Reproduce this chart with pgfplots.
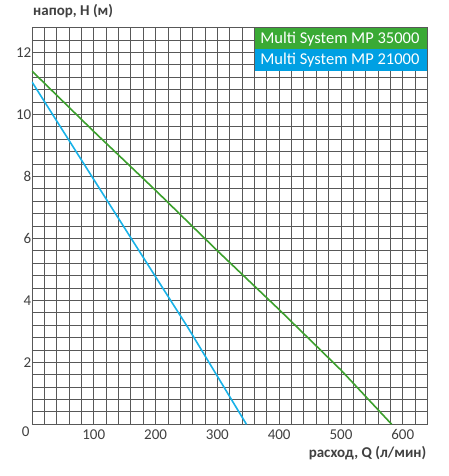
\documentclass[border=0pt]{standalone}
\usepackage{fontspec}
\setmainfont{Carlito}
\usepackage{pgfplots}
\pgfplotsset{compat=1.18}
\definecolor{gridc}{RGB}{88,88,88}
\definecolor{txt}{RGB}{64,64,64}
\definecolor{mpgreen}{RGB}{58,170,53}
\definecolor{mpblue}{RGB}{0,160,227}
\definecolor{lgreen}{RGB}{60,160,45}
\definecolor{lblue}{RGB}{25,178,232}
\begin{document}
\begin{tikzpicture}
\useasboundingbox (-32pt,-51.7pt) rectangle (416pt,424.3pt);
\begin{axis}[
  name=ax,
  scale only axis, width=395.5pt, height=396.6pt,
  xmin=0, xmax=640, ymin=0, ymax=12.8,
  xtick={100,200,...,600},
  minor xtick={0,20,...,640},
  ytick={2,4,6,8,10,12},
  minor ytick={0,0.4,0.8,1.2,1.6,2.0,2.4,2.8,3.2,3.6,4.0,4.4,4.8,5.2,5.6,6.0,6.4,6.8,7.2,7.6,8.0,8.4,8.8,9.2,9.6,10.0,10.4,10.8,11.2,11.6,12.0,12.4,12.8},
  extra y ticks={0},
  extra y tick style={yticklabel style={xshift=-1.7pt, yshift=-7pt}},
  grid=both,
  major grid style={gridc, line width=0.85pt},
  minor grid style={gridc, line width=0.85pt},
  major tick length=0pt, minor tick length=0pt,
  axis line style={gridc, line width=0.85pt},
  /pgf/number format/assume math mode=true,
  xticklabel style={font=\fontsize{15}{18}\selectfont, text=txt, inner sep=0pt, anchor=north, yshift=-5pt},
  yticklabel style={font=\fontsize{15}{18}\selectfont, text=txt, inner sep=0pt, anchor=east, xshift=-0.5pt},
  title={напор, H (м)},
  title style={at={(axis description cs:0,1)}, anchor=west, xshift=1pt, yshift=10.5pt, inner sep=0pt, font=\fontsize{15}{18}\selectfont\bfseries, text=txt},
  xlabel={расход, Q (л/мин)},
  xlabel style={at={(axis description cs:1,0)}, anchor=east, xshift=-1pt, yshift=-28.7pt, inner sep=0pt, font=\fontsize{15}{18}\selectfont\bfseries, text=txt},
]
\addplot[lgreen, line width=1.6pt, line join=round] coordinates {(0,11.4)(100,9.45)(200,7.55)(300,5.6)(400,3.7)(500,1.75)(582,0)};
\addplot[lblue, line width=1.6pt, line join=round] coordinates {(0,11.05)(100,7.9)(200,4.76)(253,3.1)(300,1.55)(347,0)};
\end{axis}
\node[fill=mpgreen, text=white, anchor=north east, inner xsep=5pt, inner ysep=0pt, minimum height=21.5pt, minimum width=172pt, font=\fontsize{16.5}{19}\selectfont] at (ax.north east) {\makebox[162pt][l]{Multi System MP 35000}};
\node[fill=mpblue, text=white, anchor=north east, inner xsep=5pt, inner ysep=0pt, minimum height=21.5pt, minimum width=172pt, font=\fontsize{16.5}{19}\selectfont] at ([yshift=-21.5pt]ax.north east) {\makebox[162pt][l]{Multi System MP 21000}};
\end{tikzpicture}
\end{document}
